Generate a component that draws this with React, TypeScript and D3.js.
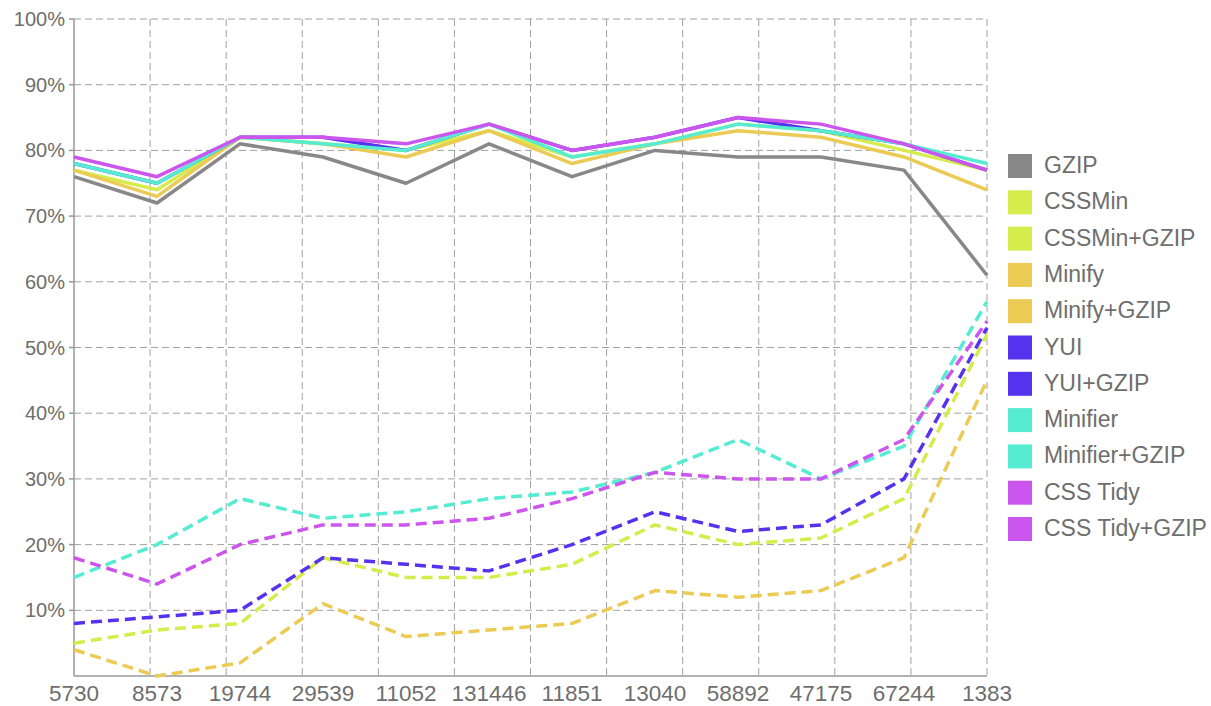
import React, { useEffect, useRef } from "react";
import * as d3 from "d3";

const categories = ["5730", "8573", "19744", "29539", "11052", "131446", "11851", "13040", "58892", "47175", "67244", "1383"];

const seriesNames = ["GZIP", "CSSMin", "CSSMin+GZIP", "Minify", "Minify+GZIP", "YUI", "YUI+GZIP", "Minifier", "Minifier+GZIP", "CSS Tidy", "CSS Tidy+GZIP"];
const seriesColors = ["#888888", "#d4ec4c", "#d4ec4c", "#eccb55", "#eccb55", "#5533ee", "#5533ee", "#55ecd2", "#55ecd2", "#cc55ee", "#cc55ee"];

const gzip = [76, 72, 81, 79, 75, 81, 76, 80, 79, 79, 77, 61];
const cssmin = [5, 7, 8, 18, 15, 15, 17, 23, 20, 21, 27, 52];
const cssminGzip = [77, 74, 82, 81, 80, 83, 79, 81, 84, 83, 80, 77];
const minify = [4, 0, 2, 11, 6, 7, 8, 13, 12, 13, 18, 45];
const minifyGzip = [77, 73, 82, 81, 79, 83, 78, 81, 83, 82, 79, 74];
const yui = [8, 9, 10, 18, 17, 16, 20, 25, 22, 23, 30, 53];
const yuiGzip = [78, 75, 82, 82, 80, 84, 80, 82, 85, 83, 81, 77];
const minifier = [15, 20, 27, 24, 25, 27, 28, 31, 36, 30, 35, 57];
const minifierGzip = [78, 75, 82, 81, 80, 84, 79, 81, 84, 83, 81, 78];
const cssTidy = [18, 14, 20, 23, 23, 24, 27, 31, 30, 30, 36, 54];
const cssTidyGzip = [79, 76, 82, 82, 81, 84, 80, 82, 85, 84, 81, 77];

const seriesValues = [gzip, cssmin, cssminGzip, minify, minifyGzip, yui, yuiGzip, minifier, minifierGzip, cssTidy, cssTidyGzip];
const yTicks = [10, 20, 30, 40, 50, 60, 70, 80, 90, 100];

const W = 1211;
const H = 706;
const FONT = "'Liberation Sans', Arial, Helvetica, sans-serif";

export default function App() {
  const svgRef = useRef<SVGSVGElement>(null);

  useEffect(() => {
    const svg = d3.select(svgRef.current);
    svg.selectAll("*").remove();

    const left = 74, right = 987, top = 19, bottom = 676;

    const x = d3.scalePoint().domain(categories).range([left, right]);
    const y = d3.scaleLinear().domain([0, 100]).range([bottom, top]);
    // vertical grid uses 12 equal divisions, independent of categories
    const gx = d3.scaleLinear().domain([0, 12]).range([left, right]);

    const grid = svg.append("g");
    grid
      .selectAll("line.h")
      .data(yTicks)
      .join("line")
      .attr("x1", left)
      .attr("x2", right)
      .attr("y1", (d) => y(d))
      .attr("y2", (d) => y(d))
      .attr("stroke", "#a0a0a0")
      .attr("stroke-dasharray", "7,4");
    grid
      .selectAll("line.v")
      .data(d3.range(1, 13))
      .join("line")
      .attr("x1", (d) => gx(d))
      .attr("x2", (d) => gx(d))
      .attr("y1", top)
      .attr("y2", bottom)
      .attr("stroke", "#a0a0a0")
      .attr("stroke-dasharray", "7,4");

    // axes
    svg.append("line").attr("x1", left).attr("x2", left).attr("y1", top).attr("y2", bottom).attr("stroke", "#999").attr("stroke-width", 1.5);
    svg.append("line").attr("x1", left).attr("x2", right).attr("y1", bottom).attr("y2", bottom).attr("stroke", "#999").attr("stroke-width", 1.5);
    svg
      .append("g")
      .selectAll("line")
      .data(yTicks)
      .join("line")
      .attr("x1", left - 5)
      .attr("x2", left)
      .attr("y1", (d) => y(d))
      .attr("y2", (d) => y(d))
      .attr("stroke", "#999")
      .attr("stroke-width", 1.5);

    svg
      .append("g")
      .selectAll("text")
      .data(yTicks)
      .join("text")
      .attr("x", left - 9)
      .attr("y", (d) => y(d))
      .attr("dy", "0.35em")
      .attr("text-anchor", "end")
      .attr("fill", "#6e6e6e")
      .style("font-family", FONT)
      .style("font-size", "20px")
      .text((d) => `${d}%`);

    svg
      .append("g")
      .selectAll("text")
      .data(categories)
      .join("text")
      .attr("x", (d) => x(d)!)
      .attr("y", bottom + 25)
      .attr("text-anchor", "middle")
      .attr("fill", "#6e6e6e")
      .style("font-family", FONT)
      .style("font-size", "22.5px")
      .text((d) => d);

    const line = d3
      .line<number>()
      .x((_, i) => x(categories[i])!)
      .y((d) => y(d));

    const lines = svg.append("g").attr("fill", "none");
    seriesNames.forEach((name, i) => {
      const dashed = !name.includes("GZIP");
      lines
        .append("path")
        .datum(seriesValues[i])
        .attr("d", line)
        .attr("stroke", seriesColors[i])
        .attr("stroke-width", 3.5)
        .attr("stroke-linejoin", "round")
        .attr("stroke-dasharray", dashed ? "11,6" : null);
    });

    const legend = svg.append("g").attr("transform", "translate(1008,154)");
    const rows = legend
      .selectAll("g")
      .data(seriesNames)
      .join("g")
      .attr("transform", (_, i) => `translate(0,${i * 36.3})`);
    rows
      .append("rect")
      .attr("width", 24)
      .attr("height", 24)
      .attr("fill", (_, i) => seriesColors[i]);
    rows
      .append("text")
      .attr("x", 36)
      .attr("y", 11)
      .attr("dy", "0.35em")
      .attr("fill", "#6e6e6e")
      .style("font-family", FONT)
      .style("font-size", "23px")
      .text((d) => d);
  }, []);

  return (
    <svg
      ref={svgRef}
      width={W}
      height={H}
      style={{ position: "absolute", left: 0, top: 0, background: "#fff" }}
    />
  );
}
